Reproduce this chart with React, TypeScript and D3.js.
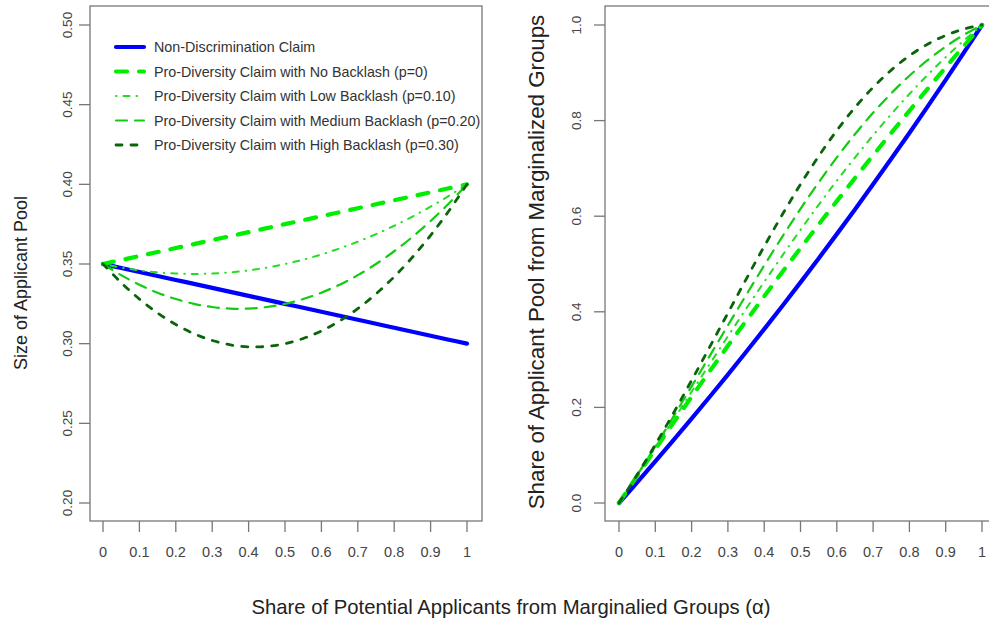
import React from "react";
import * as d3 from "d3";

// ---- data ----
const alphas = [0, 0.05, 0.1, 0.15, 0.2, 0.25, 0.3, 0.35, 0.4, 0.45, 0.5, 0.55, 0.6, 0.65, 0.7, 0.75, 0.8, 0.85, 0.9, 0.95, 1];

// Left panel: size of applicant pool
const poolNonDisc = [0.35, 0.3475, 0.345, 0.3425, 0.34, 0.3375, 0.335, 0.3325, 0.33, 0.3275, 0.325, 0.3225, 0.32, 0.3175, 0.315, 0.3125, 0.31, 0.3075, 0.305, 0.3025, 0.3];
const poolNoBacklash = [0.35, 0.3525, 0.355, 0.3575, 0.36, 0.3625, 0.365, 0.3675, 0.37, 0.3725, 0.375, 0.3775, 0.38, 0.3825, 0.385, 0.3875, 0.39, 0.3925, 0.395, 0.3975, 0.4];
const poolLowBacklash = [0.35, 0.34775, 0.346, 0.34475, 0.344, 0.34375, 0.344, 0.34475, 0.346, 0.34775, 0.35, 0.35275, 0.356, 0.35975, 0.364, 0.36875, 0.374, 0.37975, 0.386, 0.39275, 0.4];
const poolMedBacklash = [0.35, 0.343, 0.337, 0.332, 0.328, 0.325, 0.323, 0.322, 0.322, 0.323, 0.325, 0.328, 0.332, 0.337, 0.343, 0.35, 0.358, 0.367, 0.377, 0.388, 0.4];
const poolHighBacklash = [0.35, 0.33825, 0.328, 0.31925, 0.312, 0.30625, 0.302, 0.29925, 0.298, 0.29825, 0.3, 0.30325, 0.308, 0.31425, 0.322, 0.33125, 0.342, 0.35425, 0.368, 0.38325, 0.4];

// Right panel: share of applicant pool from marginalized groups
const shareNonDisc = [0, 0.04317, 0.08696, 0.13139, 0.17647, 0.22222, 0.26866, 0.31579, 0.36364, 0.41221, 0.46154, 0.51163, 0.5625, 0.61417, 0.66667, 0.72, 0.77419, 0.82927, 0.88525, 0.94215, 1];
const shareNoBacklash = [0, 0.05674, 0.11268, 0.16783, 0.22222, 0.27586, 0.32877, 0.38095, 0.43243, 0.48322, 0.53333, 0.58278, 0.63158, 0.67974, 0.72727, 0.77419, 0.82051, 0.86624, 0.91139, 0.95597, 1];
const shareLowBacklash = [0, 0.05751, 0.11561, 0.17404, 0.23256, 0.29091, 0.34884, 0.40609, 0.46243, 0.51761, 0.57143, 0.62367, 0.67416, 0.72272, 0.76923, 0.81356, 0.85561, 0.89533, 0.93264, 0.96754, 1];
const shareMedBacklash = [0, 0.05831, 0.11869, 0.18072, 0.2439, 0.30769, 0.37152, 0.43478, 0.49689, 0.55728, 0.61538, 0.67073, 0.72289, 0.77151, 0.81633, 0.85714, 0.89385, 0.92643, 0.95491, 0.97938, 1];
const shareHighBacklash = [0, 0.05913, 0.12195, 0.18794, 0.25641, 0.32653, 0.39735, 0.46784, 0.53691, 0.60352, 0.66667, 0.72547, 0.77922, 0.82737, 0.86957, 0.90566, 0.93567, 0.95977, 0.97826, 0.99152, 1];

const seriesLabels = [
  "Non-Discrimination Claim",
  "Pro-Diversity Claim with No Backlash (p=0)",
  "Pro-Diversity Claim with Low Backlash (p=0.10)",
  "Pro-Diversity Claim with Medium Backlash (p=0.20)",
  "Pro-Diversity Claim with High Backlash (p=0.30)",
];

const xTicks = [0, 0.1, 0.2, 0.3, 0.4, 0.5, 0.6, 0.7, 0.8, 0.9, 1];
const xTickLabels = ["0", "0.1", "0.2", "0.3", "0.4", "0.5", "0.6", "0.7", "0.8", "0.9", "1"];
const leftYTicks = [0.2, 0.25, 0.3, 0.35, 0.4, 0.45, 0.5];
const leftYTickLabels = ["0.20", "0.25", "0.30", "0.35", "0.40", "0.45", "0.50"];
const rightYTicks = [0, 0.2, 0.4, 0.6, 0.8, 1];
const rightYTickLabels = ["0.0", "0.2", "0.4", "0.6", "0.8", "1.0"];

const leftTitle = "Size of Applicant Pool";
const rightTitle = "Share of Applicant Pool from Marginalized Groups";
const xTitle = "Share of Potential Applicants from Marginalied Groups (\u03b1)";

// ---- styles ----
const styles = [
  { color: "#0000ff", width: 4.2, dash: "none" },
  { color: "#00ee00", width: 4.2, dash: "11,12" },
  { color: "#22dd22", width: 2, dash: "0.5,7,6,7" },
  { color: "#11cc11", width: 2.2, dash: "11,8" },
  { color: "#0a640a", width: 2.8, dash: "6,9" },
];

const FONT = "'Liberation Sans', Arial, Helvetica, sans-serif";
const AXIS_COLOR = "#777";
const TEXT_COLOR = "#444";

function Panel({
  x0, x1, boxLeft, boxRight, yDomain, yRange, boxTop, boxBottom,
  yTicks, yTickLabels, series, yLabelX,
}: any) {
  const xs = d3.scaleLinear().domain([0, 1]).range([x0, x1]);
  const ys = d3.scaleLinear().domain(yDomain).range(yRange);
  const line = d3
    .line<number>()
    .x((_, i) => xs(alphas[i]))
    .y((v) => ys(v))
    .curve(d3.curveCatmullRom);
  return (
    <g>
      <rect x={boxLeft} y={boxTop} width={boxRight - boxLeft} height={boxBottom - boxTop}
        fill="none" stroke={AXIS_COLOR} strokeWidth={1.3} />
      {xTicks.map((t, i) => (
        <g key={"x" + i}>
          <line x1={xs(t)} x2={xs(t)} y1={boxBottom} y2={boxBottom + 11} stroke={AXIS_COLOR} strokeWidth={1.3} />
          <text x={xs(t)} y={boxBottom + 36} textAnchor="middle" fontSize={14.5} fill={TEXT_COLOR} fontFamily={FONT}>
            {xTickLabels[i]}
          </text>
        </g>
      ))}
      {yTicks.map((t: number, i: number) => (
        <g key={"y" + i}>
          <line x1={boxLeft - 11} x2={boxLeft} y1={ys(t)} y2={ys(t)} stroke={AXIS_COLOR} strokeWidth={1.3} />
          <text transform={`translate(${yLabelX},${ys(t)}) rotate(-90)`} textAnchor="middle" dy="0.35em"
            fontSize={13.5} fill={TEXT_COLOR} fontFamily={FONT}>
            {yTickLabels[i]}
          </text>
        </g>
      ))}
      {series.map((s: number[], i: number) => (
        <path key={"s" + i} d={line(s) || ""} fill="none" stroke={styles[i].color}
          strokeWidth={styles[i].width} strokeDasharray={styles[i].dash}
          strokeLinecap="round" strokeLinejoin="round" />
      ))}
    </g>
  );
}

export default function App() {
  return (
    <svg width={989} height={623} style={{ position: "absolute", left: 0, top: 0, background: "#fff" }}
      fontFamily={FONT}>
      <rect x={0} y={0} width={989} height={623} fill="#fff" />
      <Panel x0={103} x1={467} boxLeft={90} boxRight={482} yDomain={[0.2, 0.5]} yRange={[503, 25]}
        boxTop={6} boxBottom={521} yTicks={leftYTicks} yTickLabels={leftYTickLabels}
        yLabelX={67}
        series={[poolNonDisc, poolNoBacklash, poolLowBacklash, poolMedBacklash, poolHighBacklash]} />
      <Panel x0={619} x1={982} boxLeft={605} boxRight={996} yDomain={[0, 1]} yRange={[503, 25]}
        boxTop={6} boxBottom={521} yTicks={rightYTicks} yTickLabels={rightYTickLabels}
        yLabelX={576}
        series={[shareNonDisc, shareNoBacklash, shareLowBacklash, shareMedBacklash, shareHighBacklash]} />

      {/* legend */}
      {seriesLabels.map((lab, i) => {
        const y = 47 + i * 24.5;
        return (
          <g key={"lg" + i}>
            <line x1={116} x2={144} y1={y} y2={y} stroke={styles[i].color} strokeWidth={styles[i].width}
              strokeDasharray={styles[i].dash} strokeLinecap="round" />
            <text x={154} y={y} dy="0.35em" fontSize={14.3} fill="#333" fontFamily={FONT}>{lab}</text>
          </g>
        );
      })}

      {/* axis titles */}
      <text transform="translate(27,283) rotate(-90)" textAnchor="middle" fontSize={18} fill="#222" fontFamily={FONT}>
        {leftTitle}
      </text>
      <text transform="translate(544,262) rotate(-90)" textAnchor="middle" fontSize={22.3} fill="#222" fontFamily={FONT}>
        {rightTitle}
      </text>
      <text x={511} y={614} textAnchor="middle" fontSize={20.3} fill="#222" fontFamily={FONT}>
        {xTitle}
      </text>
    </svg>
  );
}
